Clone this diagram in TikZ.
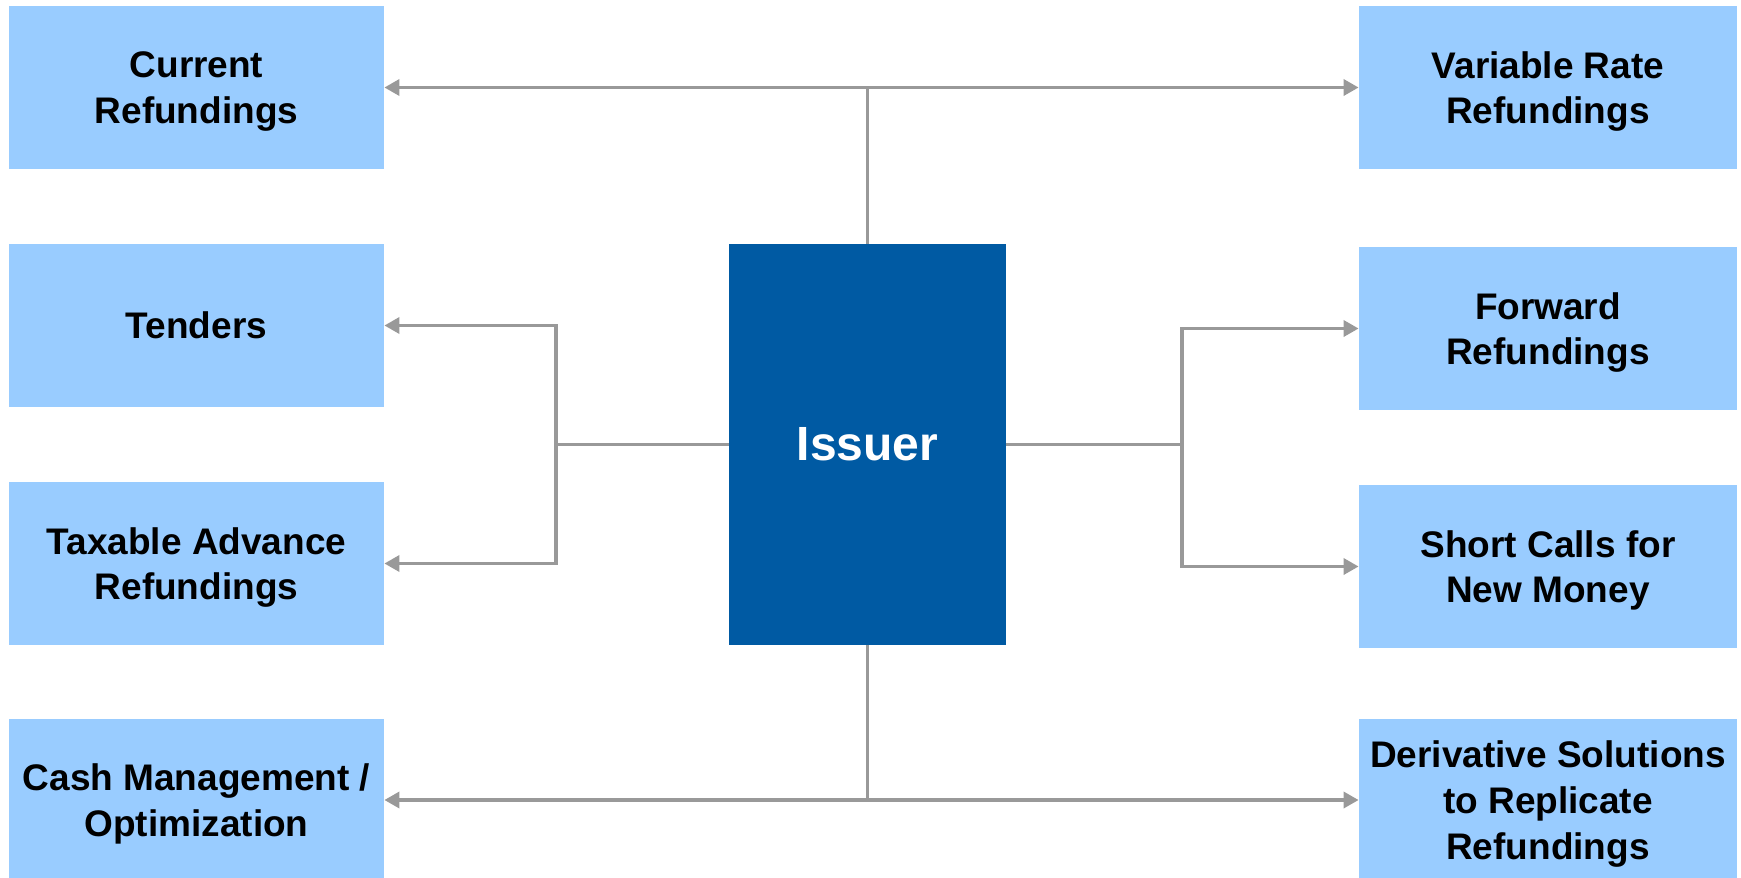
\documentclass[tikz,border=0pt]{standalone}
\usepackage{fontspec}
\setmainfont{Liberation Sans}
\usetikzlibrary{arrows.meta}
\definecolor{CajaClara}{RGB}{153,204,255}
\definecolor{CajaEmisor}{RGB}{0,90,163}
\definecolor{Conector}{RGB}{153,153,153}

\begin{document}
\begin{tikzpicture}[x=0.5pt,y=-0.5pt,
  caja/.style={fill=CajaClara, minimum width=187.5pt, minimum height=81.5pt,
    inner sep=0pt, align=center, text depth=0pt,
    font=\fontsize{18.5}{22.8}\selectfont\bfseries},
  linea/.style={draw=Conector, line width=1.7pt},
  flecha/.style={linea, -{Triangle[length=7.5pt,width=8pt]}}]

\useasboundingbox (0,0) rectangle (1741,878);

% Cajas
\node[caja] (actual) at (196.5,87.5) {Current\\Refundings};
\node[caja] (ofertas) at (196.5,325.5) {Tenders};
\node[caja] (anticipado) at (196.5,563.5) {Taxable Advance\\Refundings};
\node[caja] (caja) at (196.5,800) {Cash Management /\\Optimization};

\node[caja, minimum width=189pt] (variable) at (1548,87.5) {Variable Rate\\Refundings};
\node[caja, minimum width=189pt] (futuro) at (1548,328.5) {Forward\\Refundings};
\node[caja, minimum width=189pt] (cortas) at (1548,566.5) {Short Calls for\\New Money};
\node[caja, minimum width=189pt] (derivados) at (1548,800) {Derivative Solutions\\to Replicate\\Refundings};

\node[fill=CajaEmisor, minimum width=138.5pt, minimum height=200.5pt, inner sep=0pt,
  text=white, font=\fontsize{24}{28}\selectfont\bfseries] (emisor) at (867.5,444.5) {Issuer};

\coordinate (ramaIzq) at (556,444.5);
\coordinate (ramaDer) at (1182,444.5);

% Conectores
\draw[linea] (emisor.north) -- (emisor.north |- actual.east) coordinate (arriba);
\draw[flecha] (arriba) -- (actual.east);
\draw[flecha] (arriba) -- (variable.west);

\draw[linea] (emisor.south) -- (emisor.south |- caja.east) coordinate (abajo);
\draw[flecha] (abajo) -- (caja.east);
\draw[flecha] (abajo) -- (derivados.west);

\draw[linea] (emisor.west) -- (ramaIzq);
\draw[flecha] (ramaIzq) |- (ofertas.east);
\draw[flecha] (ramaIzq) |- (anticipado.east);

\draw[linea] (emisor.east) -- (ramaDer);
\draw[flecha] (ramaDer) |- (futuro.west);
\draw[flecha] (ramaDer) |- (cortas.west);

\end{tikzpicture}
\end{document}
